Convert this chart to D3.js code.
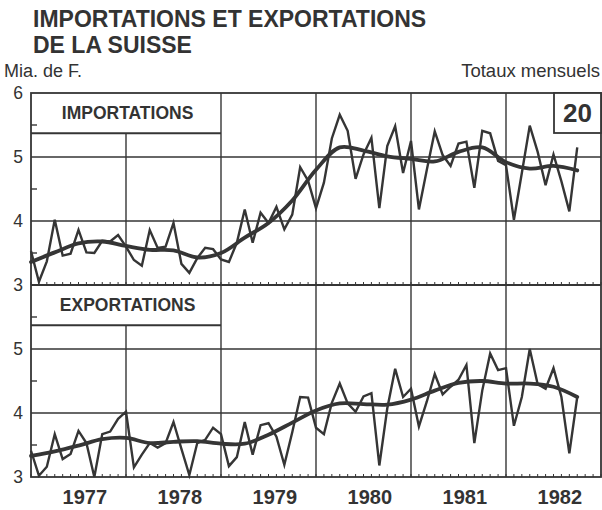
<!DOCTYPE html>
<html>
<head>
<meta charset="utf-8">
<script src="https://cdn.jsdelivr.net/npm/d3@7"></script>
<style>
  body { margin: 0; background: #fff; }
  svg text { font-family: "Liberation Sans", Arial, Helvetica, sans-serif; fill: #333; }
</style>
</head>
<body>
<svg id="chart" width="602" height="510"></svg>
<script>
// Swiss foreign trade, monthly totals (billions of francs), Jan 1977 onward
const yearLabels = ["1977", "1978", "1979", "1980", "1981", "1982"];

const importsMonthly = [
  3.53, 3.05, 3.37, 4.02, 3.46, 3.49, 3.86, 3.51, 3.50, 3.69, 3.68, 3.78,
  3.60, 3.39, 3.30, 3.86, 3.58, 3.60, 3.97, 3.33, 3.19, 3.42, 3.58, 3.56,
  3.40, 3.36, 3.66, 4.18, 3.66, 4.13, 3.97, 4.22, 3.87, 4.10, 4.84, 4.63,
  4.20, 4.60, 5.29, 5.66, 5.41, 4.66, 5.04, 5.30, 4.20, 5.17, 5.48, 4.75,
  5.25, 4.18, 4.80, 5.40, 5.03, 4.86, 5.21, 5.24, 4.52, 5.41, 5.37, 4.94,
  4.87, 4.02, 4.75, 5.49, 5.08, 4.56, 5.04, 4.62, 4.15, 5.15
];

const exportsMonthly = [
  3.41, 3.02, 3.16, 3.67, 3.28, 3.36, 3.72, 3.53, 3.00, 3.67, 3.71, 3.91,
  4.02, 3.15, 3.35, 3.53, 3.46, 3.53, 3.86, 3.44, 3.03, 3.53, 3.58, 3.77,
  3.67, 3.17, 3.31, 3.86, 3.35, 3.81, 3.84, 3.63, 3.19, 3.70, 4.25, 4.24,
  3.77, 3.67, 4.16, 4.46, 4.15, 4.02, 4.26, 4.31, 3.18, 4.07, 4.69, 4.25,
  4.38, 3.79, 4.18, 4.61, 4.29, 4.41, 4.52, 4.75, 3.53, 4.35, 4.93, 4.67,
  4.70, 3.80, 4.25, 5.00, 4.45, 4.38, 4.70, 4.25, 3.37, 4.25
];

// Smoothed trend, one value every third month
const trendMonths = [0, 3, 6, 9, 12, 15, 18, 21, 24, 27, 30, 33, 36, 39, 42, 45, 48, 51, 54, 57, 60, 63, 66, 69];
const importsTrend = [
  3.36, 3.51, 3.65, 3.68, 3.61, 3.55, 3.54, 3.43, 3.50, 3.74, 3.97, 4.32,
  4.80, 5.15, 5.10, 5.01, 4.97, 4.93, 5.08, 5.15, 4.92, 4.82, 4.86, 4.79
];
const exportsTrend = [
  3.33, 3.40, 3.49, 3.59, 3.61, 3.53, 3.55, 3.56, 3.52, 3.52, 3.66, 3.85,
  4.04, 4.15, 4.14, 4.13, 4.21, 4.35, 4.47, 4.50, 4.46, 4.46, 4.41, 4.25
];

const valueTicks = [3, 4, 5, 6];
const halfTicks = [3.5, 4.5, 5.5];

const ink = "#353535";
const svg = d3.select("#chart");

const x = d3.scaleLinear().domain([0, 72]).range([31, 601]);
const yImp = d3.scaleLinear().domain([3, 6]).range([285, 93]);
const yExp = d3.scaleLinear().domain([3, 6]).range([477, 285]);

// Titles
svg.append("text").attr("x", 33).attr("y", 27)
  .attr("font-size", 23).attr("font-weight", "bold").text("IMPORTATIONS ET EXPORTATIONS");
svg.append("text").attr("x", 33).attr("y", 53)
  .attr("font-size", 23).attr("font-weight", "bold").text("DE LA SUISSE");
svg.append("text").attr("x", 4).attr("y", 77)
  .attr("font-size", 18).text("Mia. de F.");
svg.append("text").attr("x", 600).attr("y", 77).attr("text-anchor", "end")
  .attr("font-size", 18.5).text("Totaux mensuels");

function panel(y, label, monthly, trend, topLabel) {
  const g = svg.append("g");
  const [y0, y1] = y.range();   // bottom, top
  const boxBottom = y(5.37);

  // horizontal grid at whole values
  g.selectAll("line.h").data([4, 5]).join("line")
    .attr("x1", x(0)).attr("x2", x(72))
    .attr("y1", d => y(d)).attr("y2", d => y(d))
    .attr("stroke", ink).attr("stroke-width", 1.4);

  // vertical grid at year boundaries
  g.selectAll("line.v").data([12, 24, 36, 48, 60]).join("line")
    .attr("x1", d => x(d)).attr("x2", d => x(d))
    .attr("y1", d => d === 12 ? boxBottom : y1).attr("y2", y0)
    .attr("stroke", ink).attr("stroke-width", 1.4);

  // label box
  g.append("line").attr("x1", x(0)).attr("x2", x(24))
    .attr("y1", boxBottom).attr("y2", boxBottom)
    .attr("stroke", ink).attr("stroke-width", 2);
  g.append("text").attr("x", x(12.2)).attr("y", y1 + 26)
    .attr("text-anchor", "middle").attr("font-size", 17.5).attr("font-weight", "bold")
    .text(label);

  // half-unit ticks on the left axis
  g.selectAll("line.t").data(halfTicks).join("line")
    .attr("x1", x(0)).attr("x2", x(0) + 6)
    .attr("y1", d => y(d)).attr("y2", d => y(d))
    .attr("stroke", ink).attr("stroke-width", 1.4);

  // monthly ticks on the base line
  g.selectAll("line.m").data(d3.range(0, 73)).join("line")
    .attr("x1", d => x(d)).attr("x2", d => x(d))
    .attr("y1", y0).attr("y2", y0 - 3)
    .attr("stroke", ink).attr("stroke-width", 1);

  // value labels
  const labels = topLabel ? valueTicks : valueTicks.filter(v => v < 6);
  g.selectAll("text.v").data(labels).join("text")
    .attr("x", 23).attr("y", d => y(d) + 6)
    .attr("text-anchor", "end").attr("font-size", 17.5)
    .text(d => d);

  // monthly series
  g.append("path").datum(monthly)
    .attr("fill", "none").attr("stroke", ink).attr("stroke-width", 2.4)
    .attr("stroke-linejoin", "miter")
    .attr("d", d3.line().x((d, i) => x(i)).y(d => y(d)));

  // trend
  g.append("path").datum(trend)
    .attr("fill", "none").attr("stroke", ink).attr("stroke-width", 3.8)
    .attr("stroke-linecap", "round")
    .attr("d", d3.line().x((d, i) => x(trendMonths[i])).y(d => y(d))
      .curve(d3.curveCatmullRom.alpha(0.5)));
}

panel(yImp, "IMPORTATIONS", importsMonthly, importsTrend, true);
panel(yExp, "EXPORTATIONS", exportsMonthly, exportsTrend, false);

// outer frame
svg.append("rect").attr("x", x(0)).attr("y", yImp(6))
  .attr("width", x(72) - x(0)).attr("height", yExp(3) - yImp(6))
  .attr("fill", "none").attr("stroke", ink).attr("stroke-width", 1.8);
svg.append("line").attr("x1", x(0)).attr("x2", x(72))
  .attr("y1", yImp(3)).attr("y2", yImp(3))
  .attr("stroke", ink).attr("stroke-width", 2);

// chart number box
svg.append("rect").attr("x", 554).attr("y", yImp(6))
  .attr("width", x(72) - 554).attr("height", 40)
  .attr("fill", "#fff").attr("stroke", ink).attr("stroke-width", 1.8);
svg.append("text").attr("x", (554 + x(72)) / 2).attr("y", yImp(6) + 29)
  .attr("text-anchor", "middle").attr("font-size", 26).attr("font-weight", "bold")
  .text("20");

// year labels
svg.selectAll("text.year").data(yearLabels).join("text")
  .attr("x", (d, i) => x(12 * i + 6.8)).attr("y", 504)
  .attr("text-anchor", "middle").attr("font-size", 20).attr("font-weight", "bold")
  .text(d => d);
</script>
</body>
</html>
